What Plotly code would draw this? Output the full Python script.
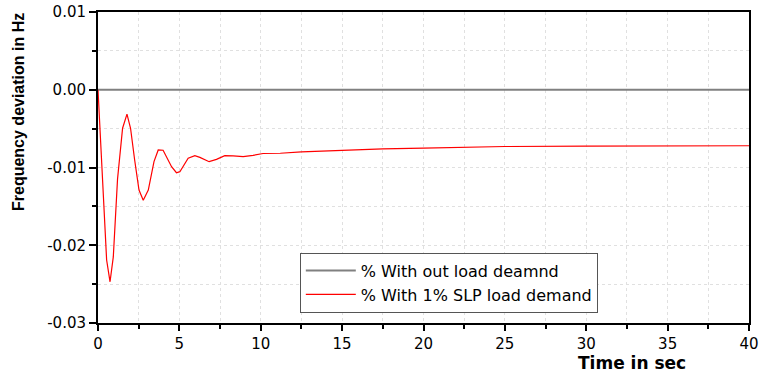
import plotly.graph_objects as go

time_s = [0, 0.25, 0.53, 0.74, 0.94, 1.2, 1.51, 1.78, 2.0, 2.25, 2.52, 2.78, 3.09, 3.44, 3.70, 4.0,
          4.52, 4.82, 5.03, 5.54, 5.95, 6.26, 6.83, 7.28, 7.79, 8.3, 8.92, 9.53, 10.14, 11.2,
          12.5, 15, 17.5, 20, 22.5, 25, 30, 35, 40]
freq_slp = [0.0, -0.0110, -0.0219, -0.0247, -0.0215, -0.0115, -0.00495, -0.00314, -0.00495, -0.0090,
            -0.0129, -0.0142, -0.0129, -0.00925, -0.00774, -0.00778,
            -0.0099, -0.01067, -0.01054, -0.0088, -0.00847, -0.0087, -0.00925, -0.00895, -0.00847,
            -0.0085, -0.0086, -0.00843, -0.0082, -0.00817,
            -0.0080, -0.0078, -0.0076, -0.0075, -0.0074, -0.0073, -0.00725, -0.0072, -0.0072]
time_base = [0, 40]
freq_base = [0.0, 0.0]

x_ticks = [0, 5, 10, 15, 20, 25, 30, 35, 40]
y_ticks = [0.01, 0.0, -0.01, -0.02, -0.03]
y_labels = ["0.01", "0.00", "-0.01", "-0.02", "-0.03"]

fig = go.Figure()
fig.add_trace(go.Scatter(x=time_base, y=freq_base, mode="lines",
                         line=dict(color="#808080", width=2),
                         name="% With out load deamnd"))
fig.add_trace(go.Scatter(x=time_s, y=freq_slp, mode="lines",
                         line=dict(color="#ff0000", width=1.2),
                         name="% With 1% SLP load demand"))

tick_font = dict(family="DejaVu Sans, Verdana, sans-serif", size=15, color="#000")

ML, MR, MT, MB = 98, 10, 12, 53
fig.update_layout(
    width=759, height=376,
    margin=dict(l=ML, r=MR, t=MT, b=MB),
    paper_bgcolor="white", plot_bgcolor="white",
    showlegend=True,
    legend=dict(x=0.31, y=0.226, xanchor="left", yanchor="top",
                bordercolor="#555", borderwidth=1, bgcolor="white",
                font=dict(family="DejaVu Sans, Verdana, sans-serif", size=16, color="#000"),
                itemwidth=50, tracegroupgap=0),
    xaxis=dict(range=[0, 40], tickvals=x_ticks, ticks="outside", ticklen=6, tickwidth=1.5,
               tickcolor="#000", showline=True, linecolor="#000", linewidth=2, mirror=True,
               showgrid=False, zeroline=False, tickfont=tick_font, automargin=False,
               minor=dict(dtick=2.5, tick0=0, ticks="outside", ticklen=4, tickcolor="#000",
                          showgrid=True, gridcolor="#e0e0e0", griddash="dot", gridwidth=1)),
    yaxis=dict(range=[-0.03, 0.01], tickvals=y_ticks, ticktext=y_labels, ticks="outside",
               ticklen=7, tickwidth=1.5, tickcolor="#000", showline=True, linecolor="#000",
               linewidth=2, mirror=True, showgrid=False, zeroline=False, tickfont=tick_font,
               automargin=False,
               minor=dict(dtick=0.005, tick0=0, ticks="outside", ticklen=4, tickcolor="#000",
                          showgrid=True, gridcolor="#e0e0e0", griddash="dot", gridwidth=1)),
    annotations=[
        dict(text="<b>Time in sec</b>", x=0, y=0, xref="paper", yref="paper",
             showarrow=False, font=dict(family="DejaVu Sans, Verdana, sans-serif", size=17, color="#000")),
        dict(text="<b>Frequency deviation in Hz</b>", x=0, y=0, xref="paper", yref="paper",
             showarrow=False, textangle=-90,
             font=dict(family="Liberation Sans Narrow, Arial Narrow, sans-serif", size=16, color="#000")),
    ],
)
# place annotations in pixel terms relative to the plot area
pw, ph = 759 - ML - MR, 376 - MT - MB
fig.layout.annotations[0].update(x=(632 - ML) / pw, y=-(363 - 323) / ph, xanchor="center", yanchor="middle")
fig.layout.annotations[1].update(x=-(ML - 18) / pw, y=(323 - 112) / ph, xanchor="center", yanchor="middle")

fig.write_html("out.html")
